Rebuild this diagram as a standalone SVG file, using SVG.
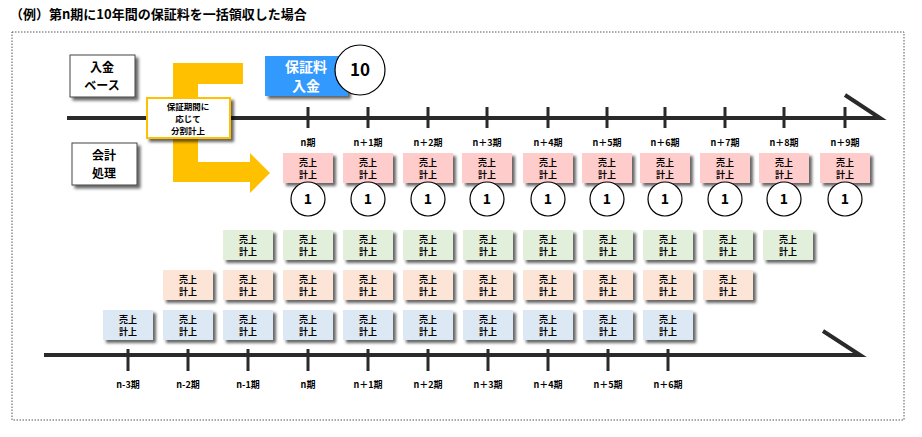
<svg xmlns="http://www.w3.org/2000/svg" width="922" height="437" viewBox="0 0 922 437">
<style>
text{font-family:"Noto Sans CJK JP","Liberation Sans",sans-serif;font-weight:bold;fill:#000;text-anchor:middle}
.s{font-size:9px}
.lb{font-size:9px}
.ax{stroke:#2a2a2a;stroke-width:4;fill:none}
.tk{stroke:#2a2a2a;stroke-width:3}
.pk{fill:#ffcccc}.gr{fill:#e2efda}.or{fill:#fce4d6}.bl{fill:#dde8f5}
.c{fill:#fff;stroke:#000;stroke-width:1.2}
.cn{font-size:14px}
</style>
<defs>
<filter id="sh" x="-20%" y="-20%" width="150%" height="150%"><feDropShadow dx="3" dy="3" stdDeviation="1.5" flood-color="#000" flood-opacity="0.6"/></filter>
<g id="box"><rect x="-25" y="0" width="50" height="30" filter="url(#sh)"/><text class="s" y="13">売上</text><text class="s" y="25">計上</text></g>
</defs>
<text x="10" y="19" style="font-size:13px;text-anchor:start">（例）第n期に10年間の保証料を一括領収した場合</text>
<rect x="12" y="32" width="892" height="388" fill="none" stroke="#555" stroke-dasharray="1.5,1.5"/>
<g id="connectors">
<path class="ax" d="M67 118H880L845 95"/>
<path class="ax" d="M44 355H860L823 331"/>
<g class="tk">
<path d="M308 107V128M368 107V128M428 107V128M487 107V128M548 107V128M607 107V128M665 107V128M725 107V128M784 107V128M845 107V128"/>
<path d="M128 349V371M188 349V371M248 349V371M308 349V371M368 349V371M428 349V371M488 349V371M548 349V371M608 349V371M668 349V371"/>
</g>
<path d="M173 63H243V84H198V162H250V153L270 173L250 193V182H173Z" fill="#ffc000"/>
</g>
<g id="nyukin"><rect x="70" y="55" width="65" height="42" fill="#fff" stroke="#444" filter="url(#sh)"/><text x="102" y="72" style="font-size:12px">入金</text><text x="102" y="90" style="font-size:12px">ベース</text></g>
<g id="kaikei"><rect x="72" y="143" width="65" height="42" fill="#fff" stroke="#444" filter="url(#sh)"/><text x="104" y="160" style="font-size:12px">会計</text><text x="104" y="178" style="font-size:12px">処理</text></g>
<g id="bunkatsu"><rect x="147" y="98" width="83" height="40" fill="#fff" stroke="#ffc000" stroke-width="2" filter="url(#sh)"/><text x="188" y="110" style="font-size:8.5px">保証期間に</text><text x="188" y="122" style="font-size:8.5px">応じて</text><text x="188" y="134" style="font-size:8.5px">分割計上</text></g>
<g id="hoshoryo"><rect x="265" y="56" width="83" height="40" fill="#3399ff" filter="url(#sh)"/><text x="306" y="72" style="font-size:14px;fill:#fff">保証料</text><text x="306" y="91" style="font-size:14px;fill:#fff">入金</text><circle cx="360" cy="70" r="25" class="c"/><text x="360" y="76" style="font-size:17px">10</text></g>
<g id="top-labels" class="lb">
<text x="308" y="146" class="lb">n期</text><text x="368" y="146" class="lb">n＋1期</text><text x="428" y="146" class="lb">n＋2期</text><text x="487" y="146" class="lb">n＋3期</text><text x="548" y="146" class="lb">n＋4期</text><text x="607" y="146" class="lb">n＋5期</text><text x="665" y="146" class="lb">n＋6期</text><text x="725" y="146" class="lb">n＋7期</text><text x="784" y="146" class="lb">n＋8期</text><text x="845" y="146" class="lb">n＋9期</text>
</g>
<g id="pink-row" class="pk">
<use href="#box" x="308" y="153"/><use href="#box" x="368" y="153"/><use href="#box" x="428" y="153"/><use href="#box" x="487" y="153"/><use href="#box" x="548" y="153"/><use href="#box" x="607" y="153"/><use href="#box" x="665" y="153"/><use href="#box" x="725" y="153"/><use href="#box" x="784" y="153"/><use href="#box" x="845" y="153"/>
</g>
<g id="circles">
<circle cx="308" cy="199" r="17" class="c"/><circle cx="368" cy="199" r="17" class="c"/><circle cx="428" cy="199" r="17" class="c"/><circle cx="487" cy="199" r="17" class="c"/><circle cx="548" cy="199" r="17" class="c"/><circle cx="607" cy="199" r="17" class="c"/><circle cx="665" cy="199" r="17" class="c"/><circle cx="725" cy="199" r="17" class="c"/><circle cx="784" cy="199" r="17" class="c"/><circle cx="845" cy="199" r="17" class="c"/>
<text x="308" y="204" class="cn">1</text><text x="368" y="204" class="cn">1</text><text x="428" y="204" class="cn">1</text><text x="487" y="204" class="cn">1</text><text x="548" y="204" class="cn">1</text><text x="607" y="204" class="cn">1</text><text x="665" y="204" class="cn">1</text><text x="725" y="204" class="cn">1</text><text x="784" y="204" class="cn">1</text><text x="845" y="204" class="cn">1</text>
</g>
<g id="green-row" class="gr">
<use href="#box" x="248" y="230"/><use href="#box" x="308" y="230"/><use href="#box" x="368" y="230"/><use href="#box" x="428" y="230"/><use href="#box" x="488" y="230"/><use href="#box" x="548" y="230"/><use href="#box" x="608" y="230"/><use href="#box" x="668" y="230"/><use href="#box" x="728" y="230"/><use href="#box" x="788" y="230"/>
</g>
<g id="orange-row" class="or">
<use href="#box" x="188" y="270"/><use href="#box" x="248" y="270"/><use href="#box" x="308" y="270"/><use href="#box" x="368" y="270"/><use href="#box" x="428" y="270"/><use href="#box" x="488" y="270"/><use href="#box" x="548" y="270"/><use href="#box" x="608" y="270"/><use href="#box" x="668" y="270"/><use href="#box" x="728" y="270"/>
</g>
<g id="blue-row" class="bl">
<use href="#box" x="128" y="310"/><use href="#box" x="188" y="310"/><use href="#box" x="248" y="310"/><use href="#box" x="308" y="310"/><use href="#box" x="368" y="310"/><use href="#box" x="428" y="310"/><use href="#box" x="488" y="310"/><use href="#box" x="548" y="310"/><use href="#box" x="608" y="310"/><use href="#box" x="668" y="310"/>
</g>
<g id="bottom-labels">
<text x="128" y="388" class="lb">n-3期</text><text x="188" y="388" class="lb">n-2期</text><text x="248" y="388" class="lb">n-1期</text><text x="308" y="388" class="lb">n期</text><text x="368" y="388" class="lb">n＋1期</text><text x="428" y="388" class="lb">n＋2期</text><text x="488" y="388" class="lb">n＋3期</text><text x="548" y="388" class="lb">n＋4期</text><text x="608" y="388" class="lb">n＋5期</text><text x="668" y="388" class="lb">n＋6期</text>
</g>
</svg>
